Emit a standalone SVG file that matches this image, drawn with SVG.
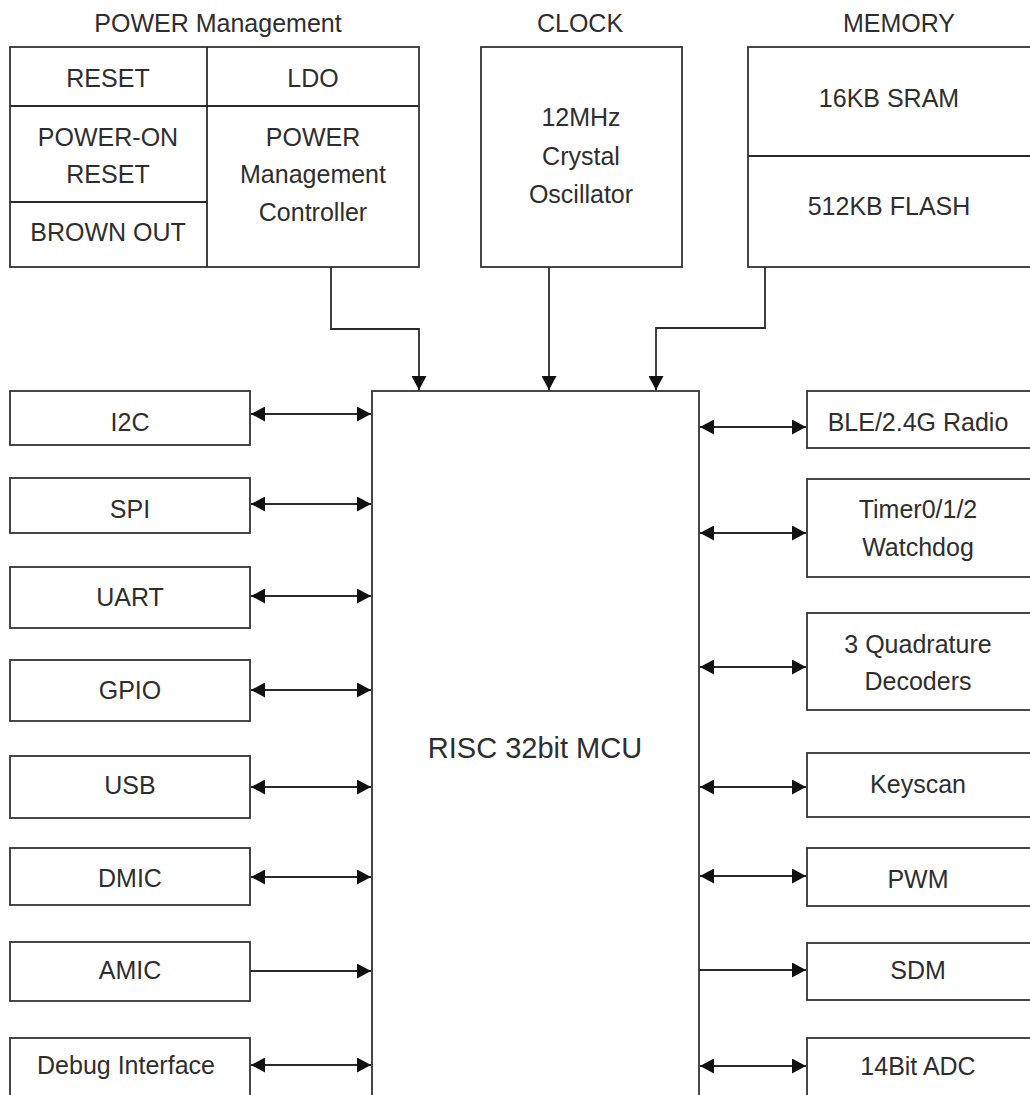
<svg xmlns="http://www.w3.org/2000/svg" width="1030" height="1095" viewBox="0 0 1030 1095">
<style>
  .box { fill: #ffffff; stroke: #333333; stroke-width: 1.8; }
  .ln { fill: none; stroke: #2a2a2a; stroke-width: 1.8; }
  .t { font-family: "Liberation Sans", Arial, sans-serif; font-size: 25px; fill: #2e2e2e; text-anchor: middle; }
  .big { font-size: 29px; }
</style>
<defs>
  <marker id="ah" markerUnits="userSpaceOnUse" markerWidth="15" markerHeight="15" refX="14" refY="7.5" orient="auto-start-reverse">
    <path d="M0,0 L14,7.5 L0,15 z" fill="#111111"/>
  </marker>
</defs>
<rect x="0" y="0" width="1030" height="1095" fill="#ffffff"/>

<!-- titles -->
<g id="titles">
  <text class="t" x="218" y="32">POWER Management</text>
  <text class="t" x="580" y="32">CLOCK</text>
  <text class="t" x="899" y="32">MEMORY</text>
</g>

<!-- power management -->
<g id="power">
  <rect class="box" x="10" y="47" width="409" height="220"/>
  <line class="ln" x1="207" y1="47" x2="207" y2="267"/>
  <line class="ln" x1="10" y1="106" x2="419" y2="106"/>
  <line class="ln" x1="10" y1="202" x2="207" y2="202"/>
  <text class="t" x="108" y="87">RESET</text>
  <text class="t" x="313" y="87">LDO</text>
  <text class="t" x="108" y="146">POWER-ON</text>
  <text class="t" x="108" y="183">RESET</text>
  <text class="t" x="108" y="241">BROWN OUT</text>
  <text class="t" x="313" y="146">POWER</text>
  <text class="t" x="313" y="183">Management</text>
  <text class="t" x="313" y="221">Controller</text>
</g>

<g id="clock">
  <rect class="box" x="481" y="47" width="201" height="220"/>
  <text class="t" x="581" y="126">12MHz</text>
  <text class="t" x="581" y="165">Crystal</text>
  <text class="t" x="581" y="203">Oscillator</text>
</g>

<g id="memory">
  <rect class="box" x="748" y="47" width="300" height="220"/>
  <line class="ln" x1="748" y1="156" x2="1040" y2="156"/>
  <text class="t" x="889" y="107">16KB SRAM</text>
  <text class="t" x="889" y="215">512KB FLASH</text>
</g>

<g id="mcu">
  <rect class="box" x="372" y="391" width="327" height="720"/>
  <text class="t big" x="535" y="758">RISC 32bit MCU</text>
</g>

<!-- left peripherals -->
<g id="i2c"><rect class="box" x="10" y="391" width="240" height="54"/><text class="t" x="130" y="431">I2C</text></g>
<g id="spi"><rect class="box" x="10" y="478" width="240" height="55"/><text class="t" x="130" y="518">SPI</text></g>
<g id="uart"><rect class="box" x="10" y="567" width="240" height="61"/><text class="t" x="130" y="606">UART</text></g>
<g id="gpio"><rect class="box" x="10" y="660" width="240" height="61"/><text class="t" x="130" y="699">GPIO</text></g>
<g id="usb"><rect class="box" x="10" y="756" width="240" height="62"/><text class="t" x="130" y="794">USB</text></g>
<g id="dmic"><rect class="box" x="10" y="848" width="240" height="57"/><text class="t" x="130" y="887">DMIC</text></g>
<g id="amic"><rect class="box" x="10" y="942" width="240" height="59"/><text class="t" x="130" y="979">AMIC</text></g>
<g id="debug"><rect class="box" x="10" y="1038" width="240" height="80"/><text class="t" x="126" y="1074">Debug Interface</text></g>

<!-- right peripherals -->
<g id="ble"><rect class="box" x="807" y="391" width="240" height="57"/><text class="t" x="918" y="431">BLE/2.4G Radio</text></g>
<g id="timer"><rect class="box" x="807" y="479" width="240" height="98"/><text class="t" x="918" y="518">Timer0/1/2</text><text class="t" x="918" y="556">Watchdog</text></g>
<g id="quad"><rect class="box" x="807" y="613" width="240" height="97"/><text class="t" x="918" y="653">3 Quadrature</text><text class="t" x="918" y="690">Decoders</text></g>
<g id="keyscan"><rect class="box" x="807" y="753" width="240" height="64"/><text class="t" x="918" y="793">Keyscan</text></g>
<g id="pwm"><rect class="box" x="807" y="848" width="240" height="58"/><text class="t" x="918" y="888">PWM</text></g>
<g id="sdm"><rect class="box" x="807" y="943" width="240" height="57"/><text class="t" x="918" y="979">SDM</text></g>
<g id="adc"><rect class="box" x="807" y="1038" width="240" height="80"/><text class="t" x="918" y="1075">14Bit ADC</text></g>

<!-- connectors -->
<g id="connectors">
  <path class="ln" d="M331,267 V329 H419 V390" marker-end="url(#ah)"/>
  <path class="ln" d="M549,267 V390" marker-end="url(#ah)"/>
  <path class="ln" d="M765,267 V328 H656 V390" marker-end="url(#ah)"/>

  <line class="ln" x1="251" y1="414" x2="371" y2="414" marker-start="url(#ah)" marker-end="url(#ah)"/>
  <line class="ln" x1="251" y1="504" x2="371" y2="504" marker-start="url(#ah)" marker-end="url(#ah)"/>
  <line class="ln" x1="251" y1="596" x2="371" y2="596" marker-start="url(#ah)" marker-end="url(#ah)"/>
  <line class="ln" x1="251" y1="690" x2="371" y2="690" marker-start="url(#ah)" marker-end="url(#ah)"/>
  <line class="ln" x1="251" y1="787" x2="371" y2="787" marker-start="url(#ah)" marker-end="url(#ah)"/>
  <line class="ln" x1="251" y1="877" x2="371" y2="877" marker-start="url(#ah)" marker-end="url(#ah)"/>
  <line class="ln" x1="250" y1="971" x2="371" y2="971" marker-end="url(#ah)"/>
  <line class="ln" x1="251" y1="1065" x2="371" y2="1065" marker-start="url(#ah)" marker-end="url(#ah)"/>

  <line class="ln" x1="700" y1="427" x2="806" y2="427" marker-start="url(#ah)" marker-end="url(#ah)"/>
  <line class="ln" x1="700" y1="533" x2="806" y2="533" marker-start="url(#ah)" marker-end="url(#ah)"/>
  <line class="ln" x1="700" y1="667" x2="806" y2="667" marker-start="url(#ah)" marker-end="url(#ah)"/>
  <line class="ln" x1="700" y1="787" x2="806" y2="787" marker-start="url(#ah)" marker-end="url(#ah)"/>
  <line class="ln" x1="700" y1="876" x2="806" y2="876" marker-start="url(#ah)" marker-end="url(#ah)"/>
  <line class="ln" x1="699" y1="970" x2="806" y2="970" marker-end="url(#ah)"/>
  <line class="ln" x1="700" y1="1066" x2="806" y2="1066" marker-start="url(#ah)" marker-end="url(#ah)"/>
</g>
</svg>
